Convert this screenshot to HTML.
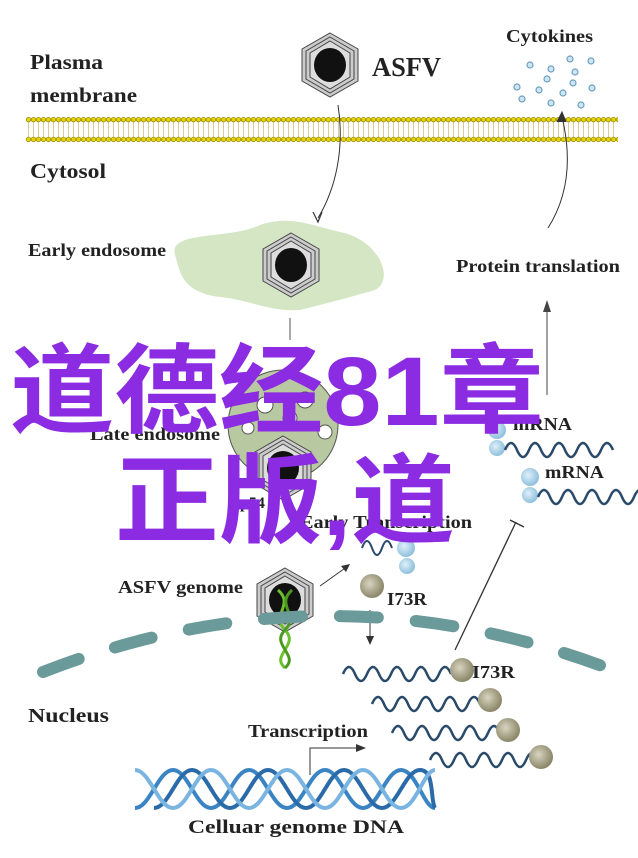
<!DOCTYPE html>
<html><head><meta charset="utf-8"><style>
html,body{margin:0;padding:0;background:#fff}
svg{display:block}
.t{font-family:"Liberation Serif",serif;font-weight:bold;fill:#222}
</style></head><body>
<svg width="638" height="858" viewBox="0 0 638 858" xmlns="http://www.w3.org/2000/svg">
<defs>
<pattern id="mem" x="26" y="117" width="5" height="25" patternUnits="userSpaceOnUse">
<line x1="2.5" y1="3" x2="2.5" y2="22" stroke="#d8cc9a" stroke-width="1"/>
<circle cx="2.5" cy="2.6" r="2.3" fill="#e6d400" stroke="#8a7a00" stroke-width="0.6"/>
<circle cx="2.5" cy="22.4" r="2.3" fill="#e6d400" stroke="#8a7a00" stroke-width="0.6"/>
</pattern>
<radialGradient id="ball" cx="40%" cy="40%" r="60%"><stop offset="0" stop-color="#d8d4c0"/><stop offset="1" stop-color="#8a8668"/></radialGradient>
<radialGradient id="bb" cx="40%" cy="40%" r="60%"><stop offset="0" stop-color="#e0f0fa"/><stop offset="1" stop-color="#8ec0dc"/></radialGradient>
<g id="hex">
<polygon points="0,-32 28,-16 28,16 0,32 -28,16 -28,-16" fill="#ccc" stroke="#444" stroke-width="1"/>
<polygon points="0,-28 24,-14 24,14 0,28 -24,14 -24,-14" fill="none" stroke="#444" stroke-width="1"/>
<polygon points="0,-24 20,-12 20,12 0,24 -20,12 -20,-12" fill="#ddd" stroke="#444" stroke-width="1"/>
<ellipse cx="0" cy="0" rx="16" ry="17" fill="#111"/>
</g>
<path id="wave" d="M0,0 q6,-14 12,0 t12,0 t12,0 t12,0 t12,0 t12,0 t12,0 t12,0 t12,0" fill="none" stroke="#2a4a6a" stroke-width="2.5"/>
</defs>

<text class="t" x="30" y="69" font-size="21" textLength="73" lengthAdjust="spacingAndGlyphs">Plasma</text>
<text class="t" x="30" y="102" font-size="21" textLength="107" lengthAdjust="spacingAndGlyphs">membrane</text>
<text class="t" x="30" y="178" font-size="21" textLength="76" lengthAdjust="spacingAndGlyphs">Cytosol</text>
<text class="t" x="506" y="42" font-size="18" textLength="87" lengthAdjust="spacingAndGlyphs">Cytokines</text>
<use href="#hex" x="330" y="65"/>
<text class="t" x="372" y="76" font-size="27" textLength="69" lengthAdjust="spacingAndGlyphs">ASFV</text>

<g fill="#cfe6f2" stroke="#6aa0c0" stroke-width="1.2">
<circle cx="530" cy="65" r="3"/><circle cx="551" cy="69" r="3"/><circle cx="570" cy="59" r="3"/><circle cx="591" cy="61" r="3"/>
<circle cx="575" cy="72" r="3"/><circle cx="547" cy="79" r="3"/><circle cx="517" cy="87" r="3"/><circle cx="539" cy="90" r="3"/>
<circle cx="573" cy="83" r="3"/><circle cx="592" cy="88" r="3"/><circle cx="563" cy="93" r="3"/><circle cx="522" cy="99" r="3"/>
<circle cx="551" cy="103" r="3"/><circle cx="581" cy="105" r="3"/>
</g>

<rect x="26" y="117" width="592" height="25" fill="url(#mem)"/>

<path d="M338,105 C345,150 335,190 318,218" fill="none" stroke="#333" stroke-width="1"/>
<path d="M313,212 L318,222 L322,212" fill="none" stroke="#333" stroke-width="1.2"/>
<path d="M548,228 C572,190 570,150 562,117" fill="none" stroke="#333" stroke-width="1"/>
<path d="M557,122 L562,112 L566,122" fill="#333" stroke="#333"/>

<text class="t" x="28" y="256" font-size="18" textLength="138" lengthAdjust="spacingAndGlyphs">Early endosome</text>
<text class="t" x="456" y="272" font-size="18" textLength="164" lengthAdjust="spacingAndGlyphs">Protein translation</text>
<path d="M175,255 C168,230 230,240 260,225 C290,215 310,225 340,232 C380,240 395,280 375,290 C340,300 320,305 300,310 C270,312 250,300 220,297 C180,292 180,270 175,255Z" fill="#d4e6c4"/>
<use href="#hex" x="291" y="265"/>

<line x1="290" y1="318" x2="290" y2="340" stroke="#555"/>
<line x1="547" y1="395" x2="547" y2="302" stroke="#444"/>
<path d="M543,312 L547,300 L551,312Z" fill="#444"/>

<circle cx="283" cy="425" r="55" fill="#b8c8a0" stroke="#555"/>
<g fill="#fff" stroke="#555"><circle cx="265" cy="405" r="8"/><circle cx="305" cy="400" r="8"/><circle cx="290" cy="418" r="7"/><circle cx="325" cy="432" r="7"/><circle cx="248" cy="428" r="6"/></g>
<use href="#hex" x="283" y="468"/>
<text class="t" x="90" y="440" font-size="18" textLength="130" lengthAdjust="spacingAndGlyphs">Late endosome</text>
<text class="t" x="513" y="430" font-size="18" textLength="59" lengthAdjust="spacingAndGlyphs">mRNA</text>
<text class="t" x="545" y="478" font-size="18" textLength="59" lengthAdjust="spacingAndGlyphs">mRNA</text>
<circle cx="497" cy="430" r="9" fill="url(#bb)"/><circle cx="497" cy="448" r="8" fill="url(#bb)"/>
<circle cx="530" cy="477" r="9" fill="url(#bb)"/><circle cx="530" cy="495" r="8" fill="url(#bb)"/>
<use href="#wave" x="505" y="450"/>
<use href="#wave" x="538" y="497"/>
<text class="t" x="300" y="528" font-size="18" textLength="172" lengthAdjust="spacingAndGlyphs">Early Transcription</text>
<text class="t" x="240" y="508" font-size="16">p54</text>
<path d="M362,548 q5,-14 10,0 t10,0 t10,0" fill="none" stroke="#2a4a6a" stroke-width="2"/>
<circle cx="406" cy="548" r="9" fill="url(#bb)"/><circle cx="407" cy="566" r="8" fill="url(#bb)"/>

<line x1="516" y1="522" x2="455" y2="650" stroke="#333" stroke-width="1.3"/>
<line x1="510" y1="520" x2="524" y2="527" stroke="#333" stroke-width="1.5"/>

<text class="t" x="118" y="593" font-size="18" textLength="125" lengthAdjust="spacingAndGlyphs">ASFV genome</text>
<use href="#hex" x="285" y="600"/>
<path d="M278,590 C295,605 270,615 285,630 C300,645 270,655 285,668" fill="none" stroke="#6cc030" stroke-width="3"/>
<path d="M292,590 C275,605 300,615 285,630 C270,645 300,655 285,668" fill="none" stroke="#4a9a20" stroke-width="3"/>
<line x1="320" y1="586" x2="348" y2="566" stroke="#333"/>
<path d="M341,566 L350,564 L346,572Z" fill="#333"/>
<circle cx="372" cy="586" r="12" fill="url(#ball)"/>
<text class="t" x="387" y="605" font-size="18" textLength="40" lengthAdjust="spacingAndGlyphs">I73R</text>
<line x1="370" y1="610" x2="370" y2="643" stroke="#333"/>
<path d="M366,636 L370,645 L374,636Z" fill="#333"/>

<path d="M43,672 Q330,560 618,672" fill="none" stroke="#6a9a9a" stroke-width="12" stroke-linecap="round" stroke-dasharray="38,38"/>

<use href="#wave" x="343" y="674"/>
<circle cx="462" cy="670" r="12" fill="url(#ball)"/>
<text class="t" x="472" y="678" font-size="18" textLength="43" lengthAdjust="spacingAndGlyphs">I73R</text>
<use href="#wave" x="372" y="704"/>
<circle cx="490" cy="700" r="12" fill="url(#ball)"/>
<use href="#wave" x="392" y="733"/>
<circle cx="508" cy="730" r="12" fill="url(#ball)"/>
<use href="#wave" x="430" y="760"/>
<circle cx="541" cy="757" r="12" fill="url(#ball)"/>

<text class="t" x="28" y="722" font-size="20" textLength="81" lengthAdjust="spacingAndGlyphs">Nucleus</text>
<text class="t" x="248" y="737" font-size="18" textLength="120" lengthAdjust="spacingAndGlyphs">Transcription</text>
<path d="M310,775 L310,748 L358,748" fill="none" stroke="#333"/>
<path d="M356,744 L366,748 L356,752Z" fill="#333"/>

<g fill="none" stroke-width="4">
<path d="M135,808 C150,808 158,770 173,770 S196,808 211,808 S234,770 249,770 S272,808 287,808 S310,770 325,770 S348,808 363,808 S386,770 401,770 S424,808 435,808" stroke="#3a84c4"/>
<path d="M154,808 C169,808 177,770 192,770 S215,808 230,808 S253,770 268,770 S291,808 306,808 S329,770 344,770 S367,808 382,808 S405,770 420,770 S430,800 435,808" stroke="#2a6aa8"/>
<path d="M135,770 C150,770 158,808 173,808 S196,770 211,770 S234,808 249,808 S272,770 287,770 S310,808 325,808 S348,770 363,770 S386,808 401,808 S424,770 435,770" stroke="#7ab4e0"/>
</g>
<text class="t" x="188" y="833" font-size="19" textLength="216" lengthAdjust="spacingAndGlyphs">Celluar genome DNA</text>

<g font-family="'Liberation Sans','Noto Sans CJK SC',sans-serif" font-weight="bold" fill="#8b2be2">
<text x="10" y="425" font-size="97" textLength="534" lengthAdjust="spacingAndGlyphs">道德经81章</text>
<text x="115" y="535" font-size="97" textLength="340" lengthAdjust="spacingAndGlyphs">正版,道</text>
</g>
</svg>
</body></html>
